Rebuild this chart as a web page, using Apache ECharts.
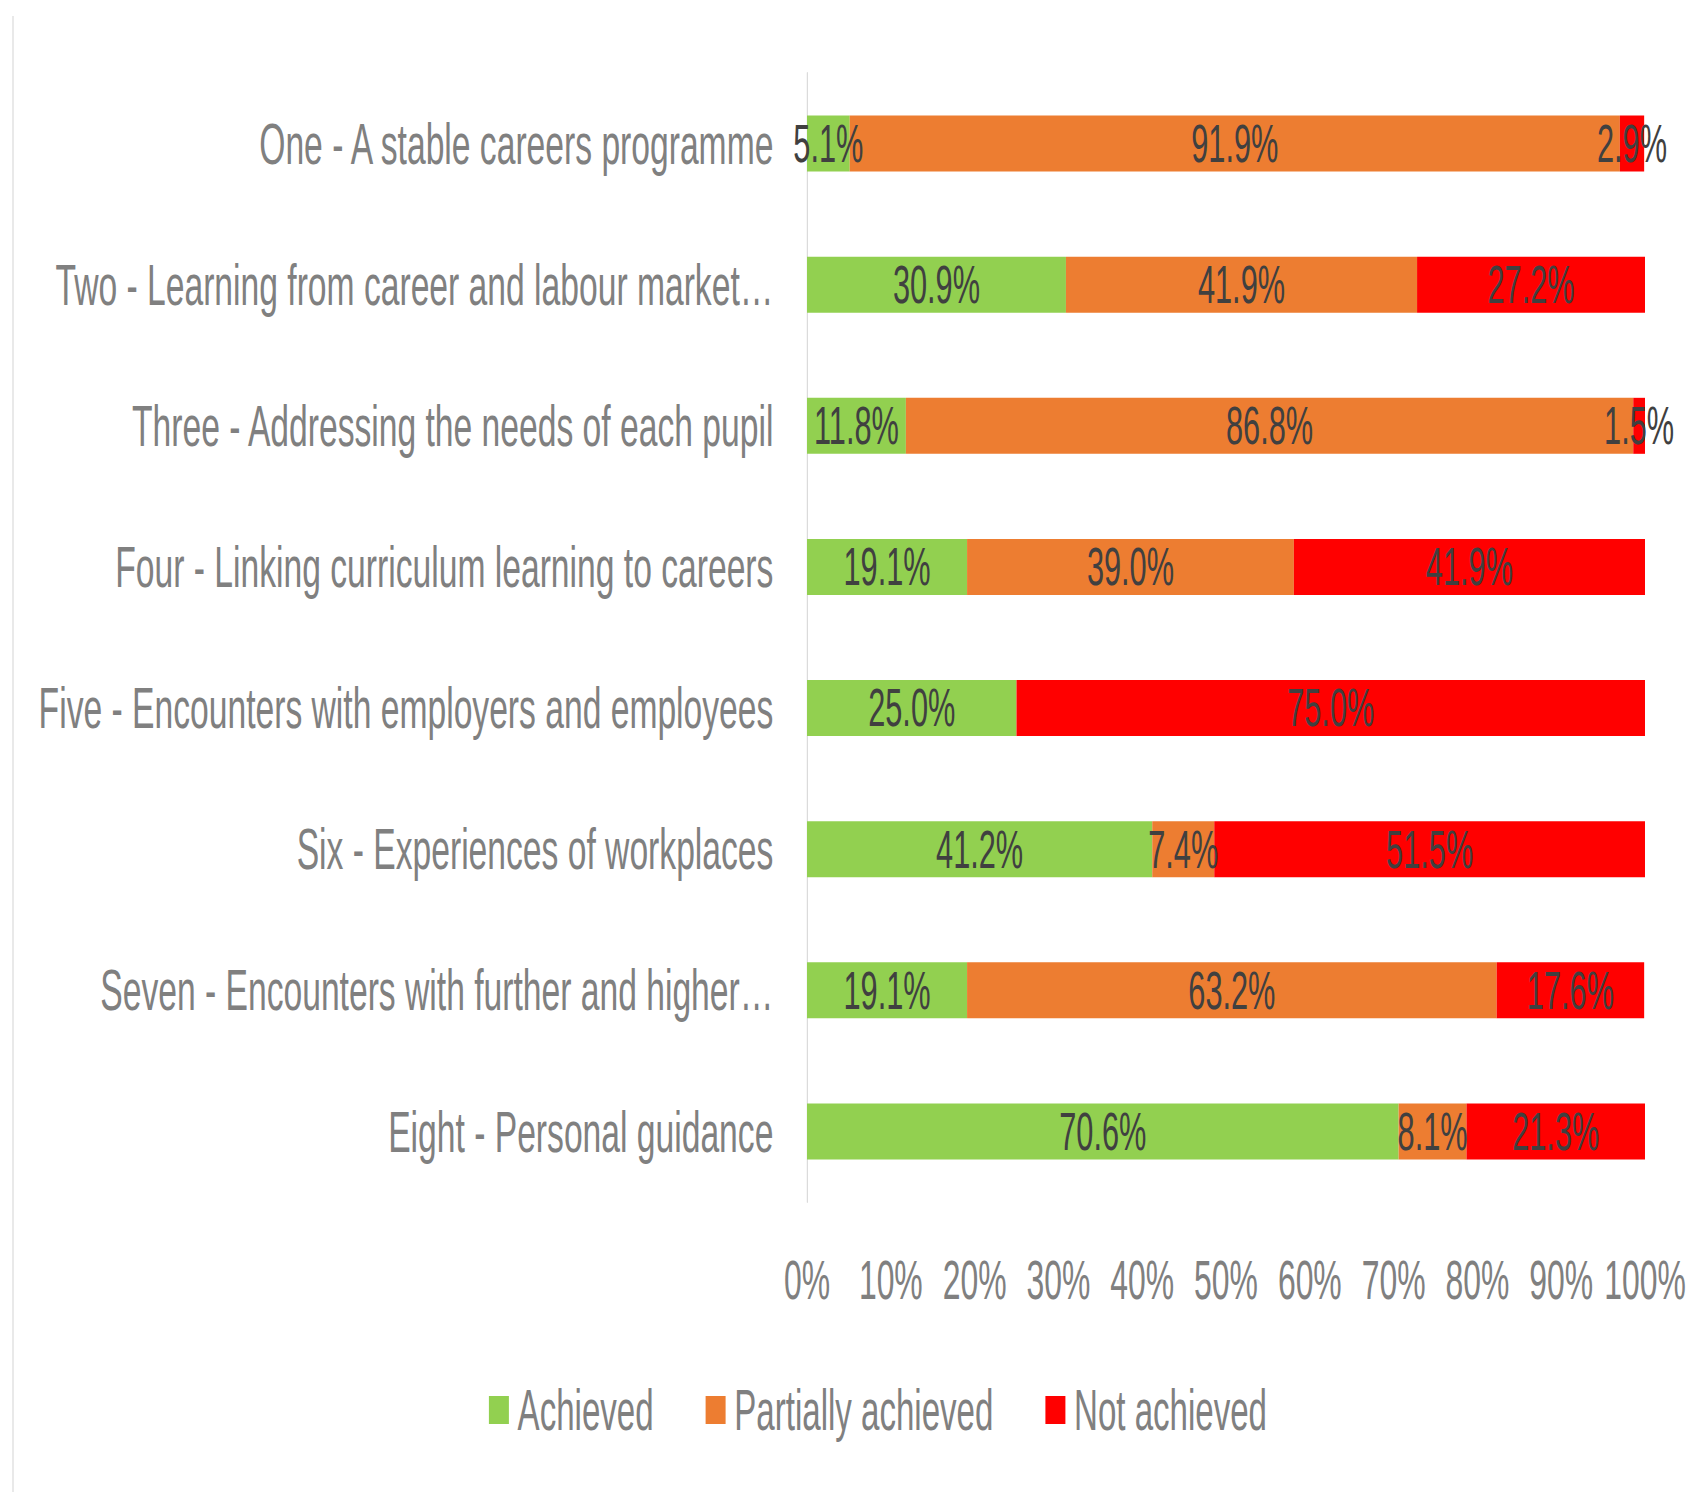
<!DOCTYPE html>
<html>
<head>
<meta charset="utf-8">
<script src="https://cdn.jsdelivr.net/npm/echarts@6/dist/echarts.min.js"></script>
<style>
html,body{margin:0;padding:0;overflow:hidden;background:#fff;}
#wrap{width:1705px;height:1492px;overflow:hidden;position:relative;}
#chart{height:1492px;transform-origin:0 0;position:absolute;left:0;top:0;}
</style>
</head>
<body>
<div id="wrap"><div id="chart"></div></div>
<script>
// Data
const categories = [
  "One - A stable careers programme",
  "Two - Learning from career and labour market…",
  "Three - Addressing the needs of each pupil",
  "Four - Linking curriculum learning to careers",
  "Five - Encounters with employers and employees",
  "Six - Experiences of workplaces",
  "Seven - Encounters with further and higher…",
  "Eight - Personal guidance"
];
const achieved = [5.1, 30.9, 11.8, 19.1, 25.0, 41.2, 19.1, 70.6];
const partiallyAchieved = [91.9, 41.9, 86.8, 39.0, 0, 7.4, 63.2, 8.1];
const notAchieved = [2.9, 27.2, 1.5, 41.9, 75.0, 51.5, 17.6, 21.3];
const seriesNames = ["Achieved", "Partially achieved", "Not achieved"];
const tickValues = [0, 10, 20, 30, 40, 50, 60, 70, 80, 90, 100];

// Horizontal condensation to mimic the narrow, tall typeface
const K = 0.58;
const W = 1705 / K;
const el = document.getElementById('chart');
el.style.width = W + 'px';
el.style.transform = 'scaleX(' + K + ')';

const FONT = '"Liberation Sans", Arial, sans-serif';
const chart = echarts.init(el, null, {renderer: 'svg', width: W, height: 1492});

function mkSeries(name, data, color) {
  return {
    name: name,
    type: 'bar',
    stack: 'total',
    data: data,
    barWidth: 56,
    itemStyle: {color: color},
    label: {
      show: true,
      position: 'inside',
      color: '#404040',
      fontFamily: FONT,
      fontSize: 53,
      formatter: p => p.value > 0 ? p.value.toFixed(1) + '%' : ''
    },
    emphasis: {disabled: true}
  };
}

chart.setOption({
  animation: false,
  backgroundColor: '#ffffff',
  grid: {left: 807 / K, right: W - 1645 / K, top: 73, bottom: 1492 - 1202, containLabel: false},
  xAxis: {
    type: 'value',
    min: 0, max: 100, interval: 10,
    axisLine: {show: false},
    axisTick: {show: false},
    splitLine: {show: false},
    axisLabel: {
      color: '#808080', fontFamily: FONT, fontSize: 55, lineHeight: 56, margin: 50,
      formatter: v => tickValues.includes(v) ? v + '%' : ''
    }
  },
  yAxis: {
    type: 'category',
    data: categories,
    inverse: true,
    axisLine: {show: true, lineStyle: {color: '#D9D9D9', width: 2}},
    axisTick: {show: false},
    axisLabel: {color: '#808080', fontFamily: FONT, fontSize: 58, margin: 58}
  },
  legend: {
    data: seriesNames,
    left: 486 / K,
    top: 1376,
    icon: 'rect',
    itemWidth: 20 / K,
    itemHeight: 28,
    itemGap: 52 / K,
    textStyle: {color: '#808080', fontFamily: FONT, fontSize: 57, lineHeight: 58, padding: [0, 0, 0, 10]}
  },
  graphic: [{
    type: 'line',
    shape: {x1: 13 / K, y1: 16, x2: 13 / K, y2: 1492},
    style: {stroke: '#D9D9D9', lineWidth: 2}
  }],
  series: [
    mkSeries(seriesNames[0], achieved, '#92D050'),
    mkSeries(seriesNames[1], partiallyAchieved, '#ED7D31'),
    mkSeries(seriesNames[2], notAchieved, '#FF0000')
  ]
});
</script>
</body>
</html>
